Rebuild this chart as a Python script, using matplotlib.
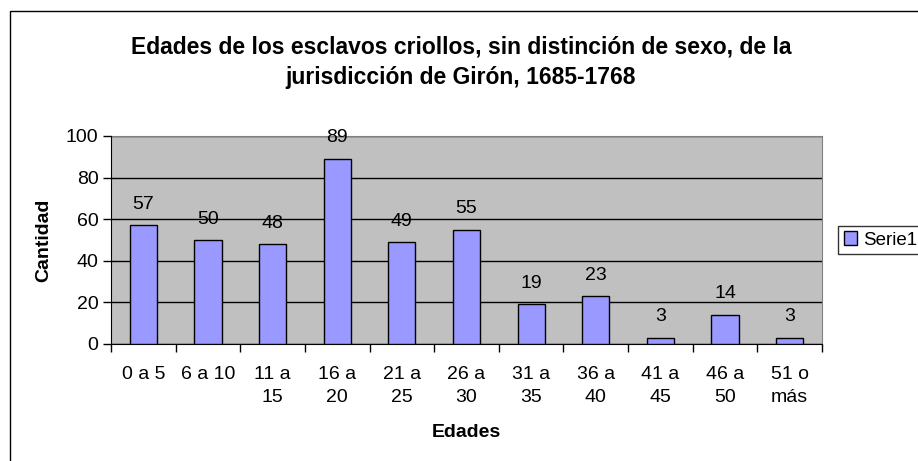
import matplotlib
matplotlib.use('Agg')
import matplotlib.pyplot as plt
from matplotlib.patches import Rectangle
import numpy as np

# chart data
categories = ["0 a 5", "6 a 10", "11 a\n15", "16 a\n20", "21 a\n25", "26 a\n30",
              "31 a\n35", "36 a\n40", "41 a\n45", "46 a\n50", "51 o\nmás"]
counts = [57, 50, 48, 89, 49, 55, 19, 23, 3, 14, 3]
series_name = "Serie1"
title = "Edades de los esclavos criollos, sin distinción de sexo, de la\njurisdicción de Girón, 1685-1768"

plt.rcParams['font.family'] = ['Liberation Sans', 'DejaVu Sans']

W, H = 918, 461
fig = plt.figure(figsize=(W / 100, H / 100), dpi=100)
fig.patch.set_facecolor('white')

# outer chart border (right/bottom edges fall outside the picture)
fig.add_artist(Rectangle((10 / W, -0.1), 1.2, 1 - 11 / H + 0.1, transform=fig.transFigure,
                         fill=False, edgecolor='black', linewidth=1.0))

ax = fig.add_axes([111 / W, 1 - 344 / H, 711 / W, 208 / H])
ax.set_facecolor('#C0C0C0')

x = np.arange(len(counts))
bars = ax.bar(x, counts, width=0.42, color='#9999FF', edgecolor='black', linewidth=1.0,
              label=series_name, zorder=3)

for xi, v in zip(x, counts):
    ax.annotate(str(v), (xi, v), xytext=(0, 9), textcoords='offset points',
                ha='center', va='bottom', fontsize=14)

ax.set_xlim(-0.5, len(counts) - 0.5)
ax.set_ylim(0, 100)
ax.set_yticks(np.arange(0, 101, 20))
ax.yaxis.grid(True, color='black', linewidth=1.0, zorder=1)
ax.set_axisbelow(True)

# category labels centred, tick marks between categories
ax.set_xticks(x)
ax.set_xticklabels(categories, fontsize=14, linespacing=1.45, va='top')
ax.set_xticks(np.arange(-0.5, len(counts)), minor=True)
ax.tick_params(axis='x', which='major', length=0, pad=16)
ax.tick_params(axis='x', which='minor', length=6, width=1, direction='out', color='black')
ax.tick_params(axis='y', length=6, width=1, direction='out', labelsize=14, pad=3)

for side in ['top', 'right']:
    ax.spines[side].set_color('#808080')
    ax.spines[side].set_zorder(2)
for side in ['left', 'bottom']:
    ax.spines[side].set_color('black')

ax.set_xlabel("Edades", fontsize=14, fontweight='bold', labelpad=13)
ax.set_ylabel("Cantidad", fontsize=14, fontweight='bold', labelpad=10)

fig.text(461 / W, 1 - 62 / H, title, ha='center', va='center', fontsize=16.5,
         fontweight='bold', linespacing=1.4)

leg = ax.legend(loc='center left', bbox_to_anchor=(838 / W, 1 - 240 / H),
                bbox_transform=fig.transFigure, fontsize=13.5, frameon=True, fancybox=False,
                handlelength=0.7, handleheight=0.7, handletextpad=0.35, borderpad=0.3,
                borderaxespad=0)
leg.get_frame().set_edgecolor('black')
leg.get_frame().set_linewidth(1.0)

fig.savefig('out.png', dpi=100, facecolor='white')
